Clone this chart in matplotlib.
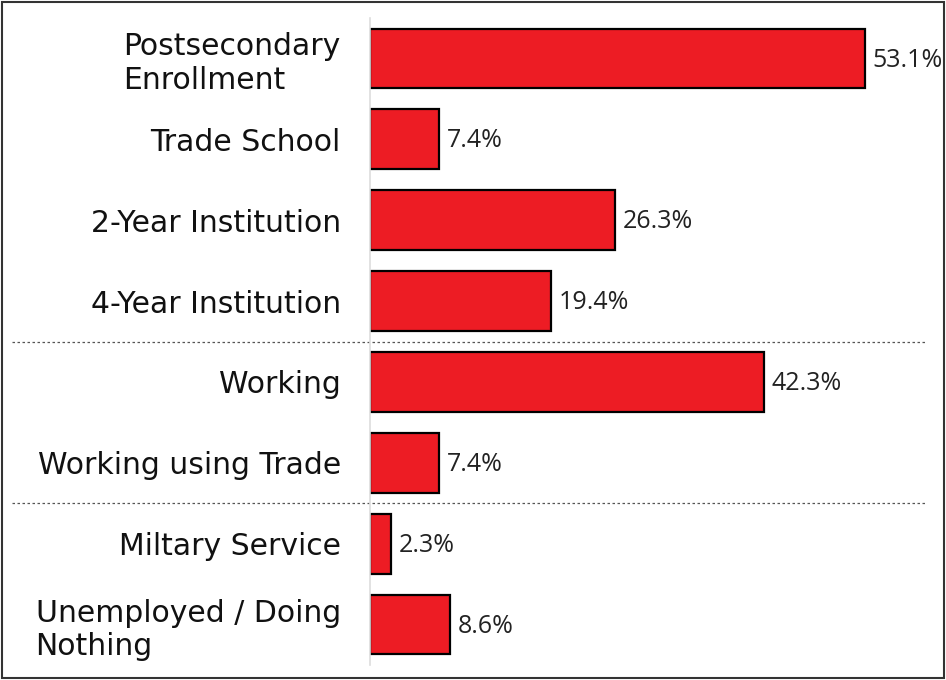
import matplotlib
matplotlib.use("Agg")
import matplotlib.pyplot as plt
from matplotlib.patches import Rectangle
from matplotlib.transforms import blended_transform_factory

categories = [
    "Postsecondary\nEnrollment",
    "Trade School",
    "2-Year Institution",
    "4-Year Institution",
    "Working",
    "Working using Trade",
    "Miltary Service",
    "Unemployed / Doing\nNothing",
]
values = [53.1, 7.4, 26.3, 19.4, 42.3, 7.4, 2.3, 8.6]
value_labels = ["53.1%", "7.4%", "26.3%", "19.4%", "42.3%", "7.4%", "2.3%", "8.6%"]
group_breaks = [3.5, 5.5]

plt.rcParams["font.family"] = ["DejaVu Sans"]

W, H = 946, 680
fig = plt.figure(figsize=(W / 100, H / 100), dpi=100)
ax = fig.add_axes([370 / W, 1 - 665 / H, (946 - 370) / W, (665 - 18) / H])

ypos = list(range(len(categories)))
ax.barh(ypos, values, height=0.74, color="#ED1C24", edgecolor="black", linewidth=1.6)

ax.set_xlim(0, 61.8)
ax.set_ylim(len(categories) - 0.5, -0.5)

for y, v, lab in zip(ypos, values, value_labels):
    ax.text(v + 0.8, y + 0.02, lab, va="center", ha="left", fontsize=18,
            color="#222222", family=["Open Sans", "DejaVu Sans"])

ax.set_yticks(ypos)
ax.set_yticklabels(categories, fontsize=21.5, color="#111111", linespacing=1.2)
for t in ax.get_yticklabels():
    t.set_multialignment("left")
ax.tick_params(axis="y", length=0, pad=21)
ax.set_xticks([])

for side in ("top", "right", "bottom"):
    ax.spines[side].set_visible(False)
ax.spines["left"].set_color("#dddddd")
ax.spines["left"].set_linewidth(1.2)

# dotted separators between groups, spanning past the axis into the label area
trans = blended_transform_factory(fig.transFigure, ax.transData)
for yb in group_breaks:
    ax.plot([12 / W, 927 / W], [yb, yb], transform=trans, color="#555555",
            linestyle=(0, (2, 2)), linewidth=0.9, clip_on=False)

# frame around the figure
fig.patches.append(Rectangle((2 / W, 2 / H), (W - 4) / W, (H - 4) / H,
                             transform=fig.transFigure, fill=False,
                             edgecolor="#333333", linewidth=1.5))

fig.savefig("out.png", dpi=100)
